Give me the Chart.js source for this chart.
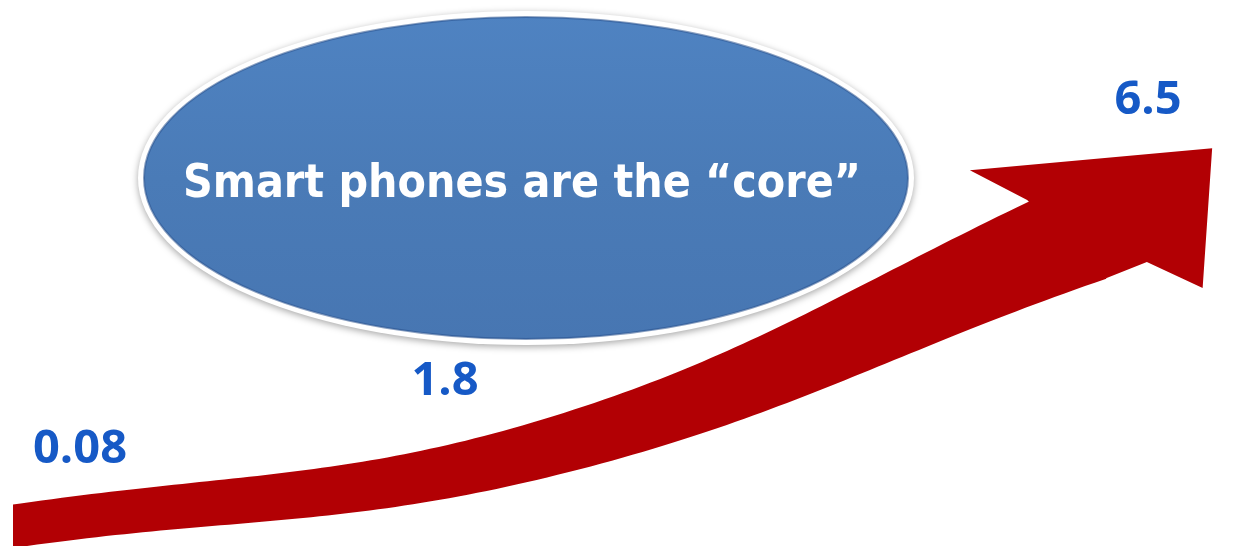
<!DOCTYPE html>
<html>
<head>
<meta charset="utf-8">
<script src="https://cdn.jsdelivr.net/npm/chart.js@4.4.1/dist/chart.umd.min.js"></script>
<style>
  html, body { margin: 0; padding: 0; background: #ffffff; }
  #wrap { position: relative; width: 1242px; height: 546px; }
</style>
</head>
<body>
<div id="wrap"><canvas id="c"></canvas></div>
<script>
// ---- data ----
const categories = ['0.08', '1.8', '6.5'];
const values = [0.08, 1.8, 6.5];
const valueLabels = ['0.08', '1.8', '6.5'];
const calloutText = 'Smart phones are the \u201Ccore\u201D';

// ---- styles ----
const ARROW_RED = '#b20004';
const LABEL_BLUE = '#1659c6';
const labelOffsets = [[67, -80], [-105, -69], [61, -134]];

// Soft callout ellipse (decoration, positioned in canvas space)
const ellipsePlugin = {
  id: 'callout',
  beforeDatasetsDraw(chart) {
    const ctx = chart.ctx;
    const cx = 526, cy = 178, rx = 388, ry = 167;
    ctx.save();
    ctx.shadowColor = 'rgba(0,0,0,0.35)';
    ctx.shadowBlur = 7;
    ctx.shadowOffsetY = 2;
    ctx.beginPath();
    ctx.ellipse(cx, cy, rx, ry, 0, 0, Math.PI * 2);
    ctx.fillStyle = '#ffffff';
    ctx.fill();
    ctx.restore();

    ctx.save();
    const g = ctx.createLinearGradient(0, cy - ry, 0, cy + ry);
    g.addColorStop(0, '#4f83c2');
    g.addColorStop(0.5, '#4a7bb7');
    g.addColorStop(1, '#4776b2');
    ctx.beginPath();
    ctx.ellipse(cx, cy, rx - 6, ry - 6, 0, 0, Math.PI * 2);
    ctx.fillStyle = g;
    ctx.fill();
    ctx.lineWidth = 2;
    ctx.strokeStyle = 'rgba(40,80,140,0.55)';
    ctx.stroke();
    ctx.restore();

    ctx.save();
    let size = 46;
    const fam = '"DejaVu Sans Condensed", "DejaVu Sans", sans-serif';
    ctx.font = 'bold ' + size + 'px ' + fam;
    const w = ctx.measureText(calloutText).width;
    if (w > 680) { size = size * 680 / w; ctx.font = 'bold ' + size + 'px ' + fam; }
    ctx.fillStyle = '#ffffff';
    ctx.textAlign = 'center';
    ctx.textBaseline = 'alphabetic';
    ctx.fillText(calloutText, 522, 197);
    ctx.restore();
  }
};

function bez(p0, c1, c2, p1, t) {
  const m = 1 - t;
  return {
    x: m*m*m*p0.x + 3*m*m*t*c1.x + 3*m*t*t*c2.x + t*t*t*p1.x,
    y: m*m*m*p0.y + 3*m*m*t*c1.y + 3*m*t*t*c2.y + t*t*t*p1.y
  };
}

// Tapered arrow shaft + head following the library's own spline through the data points
const arrowPlugin = {
  id: 'arrow',
  afterDatasetsDraw(chart) {
    const pts = chart.getDatasetMeta(0).data;
    if (!pts || pts.length < 2) return;
    const samples = [];
    for (let i = 0; i < pts.length - 1; i++) {
      const a = pts[i], b = pts[i + 1];
      const c1 = { x: a.cp2x, y: a.cp2y }, c2 = { x: b.cp1x, y: b.cp1y };
      for (let k = (i === 0 ? 0 : 1); k <= 60; k++) {
        samples.push(bez({ x: a.x, y: a.y }, c1, c2, { x: b.x, y: b.y }, k / 60));
      }
    }
    // extend the start slightly so the left end can be cut flush with the plot edge
    {
      const a = samples[0], b = samples[1];
      let dx = b.x - a.x, dy = b.y - a.y; const d = Math.hypot(dx, dy) || 1;
      samples.unshift({ x: a.x - dx / d * 12, y: a.y - dy / d * 12 });
    }
    const len = [0];
    for (let i = 1; i < samples.length; i++) {
      len.push(len[i - 1] + Math.hypot(samples[i].x - samples[i - 1].x, samples[i].y - samples[i - 1].y));
    }
    const total = len[len.length - 1];
    const top = [], bot = [];
    for (let i = 0; i < samples.length; i++) {
      const p = samples[i];
      const q0 = samples[Math.max(0, i - 1)], q1 = samples[Math.min(samples.length - 1, i + 1)];
      let dx = q1.x - q0.x, dy = q1.y - q0.y;
      const d = Math.hypot(dx, dy) || 1; dx /= d; dy /= d;
      const s = len[i] / total;
      const hw = (43 + 60 * s * s) / 2;
      top.push({ x: p.x + dy * hw, y: p.y - dx * hw });
      bot.push({ x: p.x - dy * hw, y: p.y + dx * hw });
    }
    const ctx = chart.ctx;
    const area = chart.chartArea;
    ctx.save();
    ctx.beginPath();
    ctx.rect(area.left, 0, chart.width - area.left, chart.height);
    ctx.clip();
    ctx.fillStyle = ARROW_RED;
    ctx.beginPath();
    ctx.moveTo(top[0].x, top[0].y);
    for (let i = 1; i < top.length; i++) ctx.lineTo(top[i].x, top[i].y);
    for (let i = bot.length - 1; i >= 0; i--) ctx.lineTo(bot[i].x, bot[i].y);
    ctx.closePath();
    ctx.fill();

    // head
    const end = pts[pts.length - 1];
    let ux = end.x - end.cp1x, uy = end.y - end.cp1y;
    const ud = Math.hypot(ux, uy) || 1; ux /= ud; uy /= ud;
    const nx = uy, ny = -ux;
    const local = [[-44, 51], [-86, 100], [147, 30], [86, -96], [44, -51], [0, -51]];
    ctx.beginPath();
    local.forEach(([a, b], i) => {
      const x = end.x + a * ux + b * nx, y = end.y + a * uy + b * ny;
      if (i === 0) ctx.moveTo(x, y); else ctx.lineTo(x, y);
    });
    ctx.closePath();
    ctx.fill();
    ctx.restore();

    // value labels
    ctx.save();
    ctx.font = 'bold 47px "Open Sans", "Liberation Sans", sans-serif';
    ctx.fillStyle = LABEL_BLUE;
    ctx.textAlign = 'center';
    ctx.textBaseline = 'alphabetic';
    pts.forEach((p, i) => {
      const [ox, oy] = labelOffsets[i];
      ctx.fillText(valueLabels[i], p.x + ox, p.y + oy + 17);
    });
    ctx.restore();
  }
};

new Chart(document.getElementById('c'), {
  type: 'line',
  data: {
    labels: categories,
    datasets: [{
      data: values,
      borderColor: ARROW_RED,
      borderWidth: 30,
      borderCapStyle: 'butt',
      tension: 0.4,
      pointRadius: 0,
      fill: false,
      clip: { left: 0, top: false, right: false, bottom: false }
    }]
  },
  options: {
    responsive: true,
    maintainAspectRatio: false,
    animation: false,
    events: [],
    elements: { line: { capBezierPoints: false } },
    layout: { padding: { left: 13, right: 155, top: 70, bottom: 16 } },
    plugins: { legend: { display: false }, tooltip: { enabled: false }, title: { display: false } },
    scales: {
      x: { display: false, offset: false },
      y: { display: false, min: 0, max: 10 }
    }
  },
  plugins: [ellipsePlugin, arrowPlugin]
});
</script>
</body>
</html>
